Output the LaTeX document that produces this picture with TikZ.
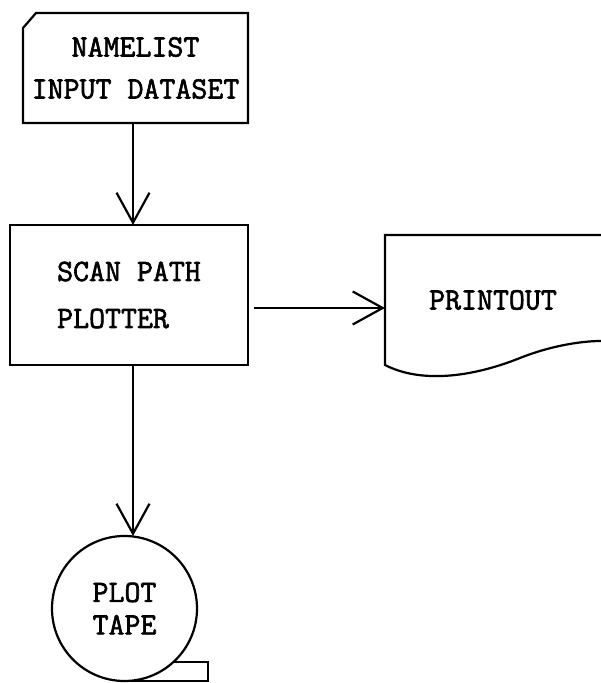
\documentclass[tikz,border=0pt]{standalone}
\usepackage{fontspec}
\newfontfamily\typewriter[FakeBold=2]{Latin Modern Mono}
\usepackage{tikz}
\usetikzlibrary{shapes,arrows.meta,positioning,calc}
\usepackage{xcolor}

\begin{document}
\begin{tikzpicture}[x=1pt,y=1pt,line width=2.2pt,
        txt/.style={font=\typewriter\fontsize{31}{32}\selectfont, inner sep=0pt, outer sep=0pt},
        flow/.style={-{Straight Barb[length=30pt,width=33pt]}}]
                    \useasboundingbox (0,0) rectangle (601,683);
                    % nodes
                    \node[txt, align=center, minimum width=225, minimum height=110] (namelist) at (135.5,615) {NAMELIST\\[10pt]INPUT DATASET};
                    \node[txt, draw, align=left, minimum width=238, minimum height=140] (plotter) at (129,388) {SCAN PATH\\[15pt]PLOTTER};
                    \node[txt, minimum width=216, minimum height=130] (printout) at (493,383) {PRINTOUT};
                    \node[txt, draw, circle, align=center, minimum size=145] (tape) at (124.5,74.5) {PLOT\\[0.5pt]TAPE};
                    % outlines
                    \draw ([yshift=-15pt]namelist.north west) -- ([xshift=13pt]namelist.north west) -- (namelist.north east)
                        -- (namelist.south east) -- (namelist.south west) -- cycle;
                    \draw (printout.north east) -- (printout.north west) -- (printout.south west)
                        .. controls +(35,-18) and +(-50,-20) .. ++(135,7)
                        .. controls +(30,12) and +(-20,0) .. ++(81,17);
                    \draw (tape.-48) -- ++(35,0) |- (tape.south);
                    % connectors
                    \draw[flow] ([xshift=-2.5pt]namelist.south) -- ([xshift=-2.5pt]namelist.south |- plotter.north);
                    \draw[flow] ([xshift=6pt,yshift=-13pt]plotter.east) -- ([yshift=-8pt]printout.west);
                    \draw[flow] ([xshift=4pt]plotter.south) -- ([xshift=4pt]plotter.south |- tape.north);
                \end{tikzpicture}
\end{document}
